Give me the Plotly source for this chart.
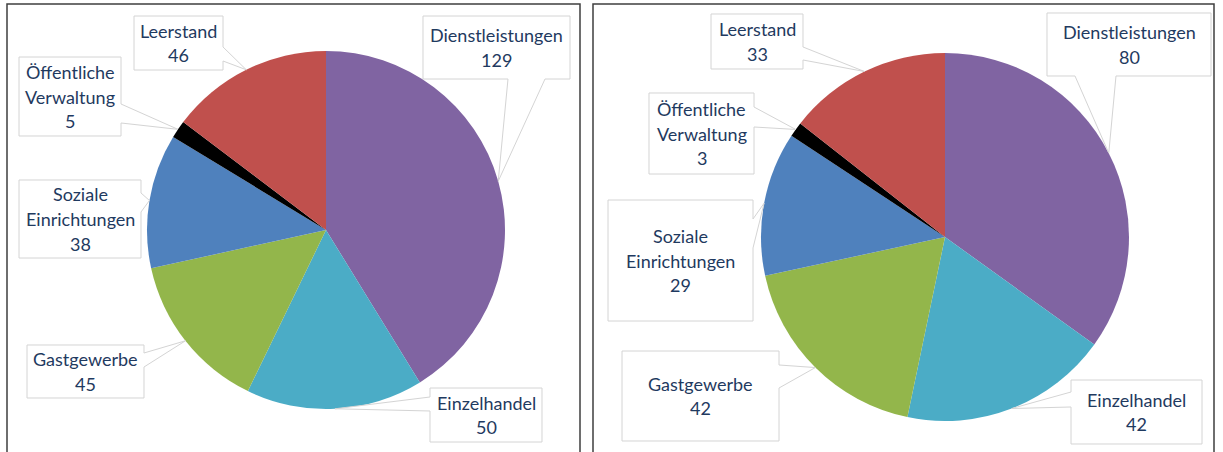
import math
import plotly.graph_objects as go

W, H = 1223, 452

categories = ["Dienstleistungen", "Einzelhandel", "Gastgewerbe",
              "Soziale Einrichtungen", "Öffentliche Verwaltung", "Leerstand"]
label_lines = [["Dienstleistungen"], ["Einzelhandel"], ["Gastgewerbe"],
               ["Soziale", "Einrichtungen"], ["Öffentliche", "Verwaltung"], ["Leerstand"]]
values_left = [129, 50, 45, 38, 5, 46]
values_right = [80, 42, 42, 29, 3, 33]
colors = ["#8064A2", "#4BACC6", "#93B64B", "#4F81BD", "#000000", "#C0504D"]

TEXT_COLOR = "#1F3A60"
BOX_LINE = "#D4D4D4"
FONT = "Lato"
LINE_GAP = 24.5

# panel layouts (pixel space): pie center/radius, callout boxes
panels = [
    dict(values=values_left, cx=326, cy=230, r=179, border=(7, 4, 580, 470),
         boxes=[
             # (x0, y0, x1, y1, side, a, b)
             (423, 16, 570, 79, "bottom", 508, 545),
             (430, 388, 542, 442, "left", 397, 411),
             (27, 345, 144, 398, "right", 353, 367),
             (19, 180, 141, 258, "right", 193, 212),
             (19, 57, 121, 136, "right", 104, 123),
             (134, 16, 223, 70, "right", 47, 61),
         ]),
    dict(values=values_right, cx=945, cy=237, r=184, border=(593, 4, 1214, 470),
         boxes=[
             (1047, 13, 1211, 76, "bottom", 1075, 1116),
             (1071, 380, 1202, 444, "left", 392, 407),
             (622, 351, 779, 441, "right", 365, 388),
             (608, 200, 753, 321, "right", 219, 248),
             (649, 93, 754, 174, "right", 107, 127),
             (711, 14, 803, 69, "right", 47, 60),
         ]),
]


def px(x):
    return x / W


def py(y):
    return 1 - y / H


fig = go.Figure()
shapes = []
annotations = []

for p in panels:
    vals = p["values"]
    cx, cy, r = p["cx"], p["cy"], p["r"]
    fig.add_trace(go.Pie(
        labels=categories, values=vals, sort=False, direction="clockwise",
        rotation=0, textinfo="none", hoverinfo="label+value",
        marker=dict(colors=colors, line=dict(width=0)),
        domain=dict(x=[px(cx - r), px(cx + r)], y=[py(cy + r), py(cy - r)]),
        showlegend=False,
    ))
    bx0, by0, bx1, by1 = p["border"]
    shapes.append(dict(type="rect", xref="paper", yref="paper",
                       x0=px(bx0), x1=px(bx1), y0=py(by1), y1=py(by0),
                       line=dict(color="#3F3F3F", width=1.5), layer="above"))
    total = sum(vals)
    cum = 0
    for i, v in enumerate(vals):
        mid = (cum + v / 2) / total * 2 * math.pi
        cum += v
        tx = cx + r * math.sin(mid)
        ty = cy - r * math.cos(mid)
        x0, y0, x1, y1, side, a, b = p["boxes"][i]
        if side == "right":
            pts = [(x0, y0), (x1, y0), (x1, a), (tx, ty), (x1, b), (x1, y1), (x0, y1)]
        elif side == "left":
            pts = [(x0, y0), (x1, y0), (x1, y1), (x0, y1), (x0, b), (tx, ty), (x0, a)]
        else:  # bottom
            pts = [(x0, y0), (x1, y0), (x1, y1), (b, y1), (tx, ty), (a, y1), (x0, y1)]
        path = "M " + " L ".join(f"{px(x):.5f},{py(y):.5f}" for x, y in pts) + " Z"
        shapes.append(dict(type="path", path=path, xref="paper", yref="paper",
                           fillcolor="white", line=dict(color=BOX_LINE, width=1),
                           layer="above"))
        lines = label_lines[i] + [str(v)]
        n = len(lines)
        mcx, mcy = (x0 + x1) / 2, (y0 + y1) / 2
        for k, t in enumerate(lines):
            ly = mcy + (k - (n - 1) / 2) * LINE_GAP
            annotations.append(dict(
                x=px(mcx), y=py(ly), xref="paper", yref="paper",
                text=t, showarrow=False,
                xanchor="center", yanchor="middle", align="center",
                font=dict(family=FONT, size=18, color=TEXT_COLOR)))

fig.update_layout(
    width=W, height=H, margin=dict(l=0, r=0, t=0, b=0),
    paper_bgcolor="white", plot_bgcolor="white",
    shapes=shapes, annotations=annotations, showlegend=False,
)

fig.write_html("out.html", config={"displayModeBar": False},
               post_script="document.body.style.margin='0';document.body.style.overflow='hidden';")
